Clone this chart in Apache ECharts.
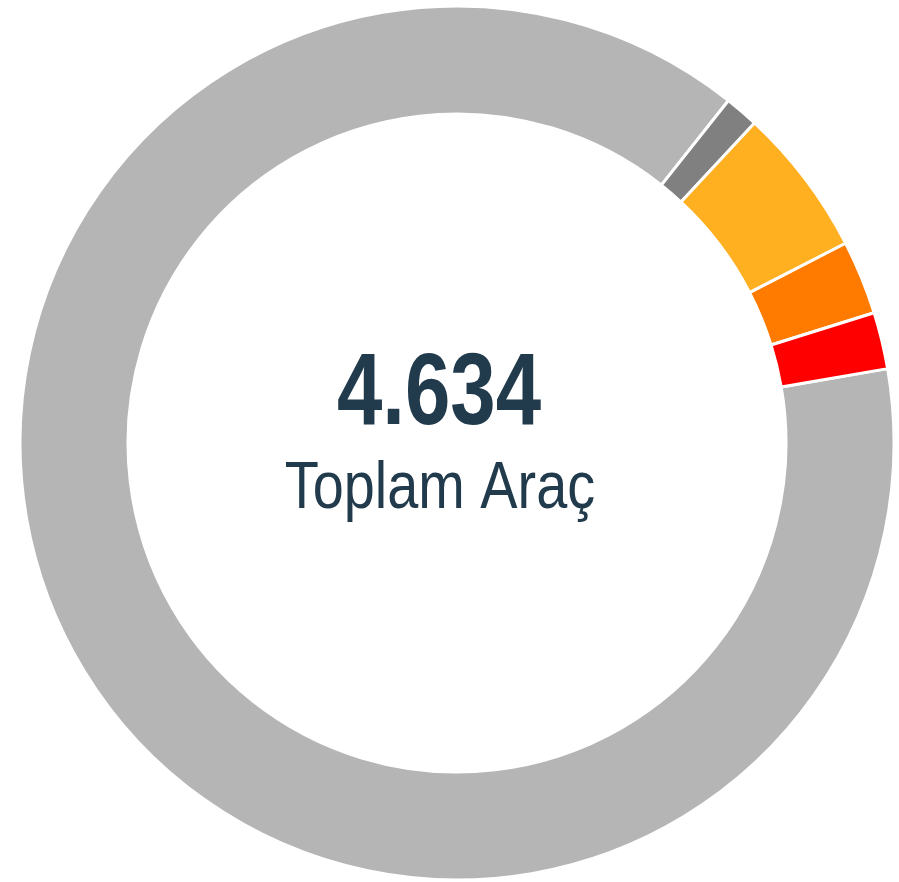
<!DOCTYPE html>
<html>
<head>
<meta charset="utf-8">
<script src="https://cdn.jsdelivr.net/npm/echarts@6/dist/echarts.min.js"></script>
<style>
  html, body { margin: 0; padding: 0; background: #fff; }
  #chart { width: 899px; height: 882px; }
</style>
</head>
<body>
<div id="chart"></div>
<script>
// segment data (clockwise from the red/gray edge)
const categories = ['Diğer', 'Kategori 2', 'Kategori 3', 'Kategori 4', 'Kategori 5']
const values = [4096, 58, 256, 127, 97]
const colors = ['#b5b5b5', '#808080', '#ffb020', '#ff7b00', '#ff0000']
const centerLabel = 'Toplam Araç'

const total = values.reduce((a, b) => a + b, 0)
const totalText = total.toLocaleString('tr-TR')

const chart = echarts.init(document.getElementById('chart'))
chart.setOption({
  animation: false,
  graphic: [
    {
      // no narrow font installed, so squeeze the regular one
      type: 'text',
      x: 439,
      y: 345,
      scaleX: 0.8,
      style: {
        x: 0,
        y: 0,
        text: totalText,
        align: 'center',
        verticalAlign: 'top',
        fill: '#213a4c',
        font: 'bold 102px "Liberation Sans", Arial, sans-serif'
      }
    },
    {
      type: 'text',
      x: 440,
      y: 457,
      scaleX: 0.846,
      style: {
        x: 0,
        y: 0,
        text: centerLabel,
        align: 'center',
        verticalAlign: 'top',
        fill: '#213a4c',
        font: '66px "Liberation Sans", Arial, sans-serif'
      }
    }
  ],
  series: [
    {
      type: 'pie',
      center: [457, 443],
      radius: [329, 437],
      startAngle: 9.8,
      clockwise: true,
      label: { show: false },
      labelLine: { show: false },
      emphasis: { disabled: true },
      itemStyle: {
        borderColor: '#fff',
        borderWidth: 3
      },
      data: categories.map((name, i) => ({
        name: name,
        value: values[i],
        itemStyle: { color: colors[i] }
      }))
    }
  ]
})
</script>
</body>
</html>
